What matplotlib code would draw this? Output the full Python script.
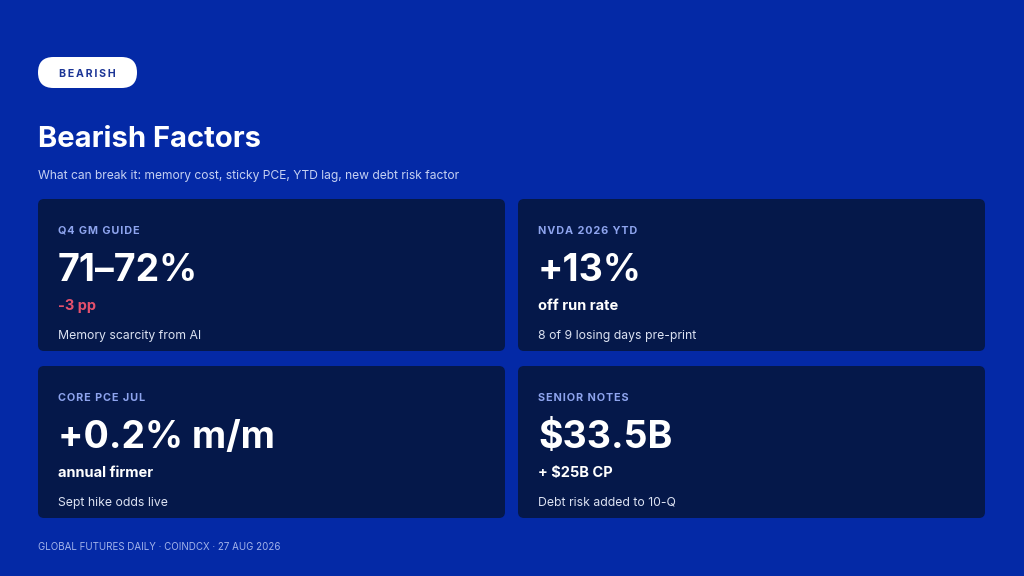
import matplotlib
matplotlib.use('Agg')
from matplotlib import pyplot as plt
from matplotlib.patches import FancyBboxPatch

# chart content
badge = 'BEARISH'
title = 'Bearish Factors'
subtitle = 'What can break it: memory cost, sticky PCE, YTD lag, new debt risk factor'
footer = 'GLOBAL FUTURES DAILY · COINDCX · 27 AUG 2026'

card_labels = ['Q4 GM GUIDE', 'NVDA 2026 YTD', 'CORE PCE JUL', 'SENIOR NOTES']
card_values = ['71–72%', '+13%', '+0.2% m/m', '$33.5B']
card_subs = ['-3 pp', 'off run rate', 'annual firmer', '+ $25B CP']
card_sub_neg = [True, False, False, False]
card_notes = ['Memory scarcity from AI', '8 of 9 losing days pre-print',
              'Sept hike odds live', 'Debt risk added to 10-Q']

BG = '#0429A6'
CARD = '#05184A'
FONT = ['Inter', 'DejaVu Sans']

def spaced(s, n=1):
    # fake letter spacing with hair spaces
    sep = '\u200a' * n
    return sep.join(list(s))

fig = plt.figure(figsize=(10.24, 5.76), dpi=100, facecolor=BG)
ax = fig.add_axes([0, 0, 1, 1])
ax.set_xlim(0, 1024)
ax.set_ylim(576, 0)
ax.axis('off')
ax.set_facecolor(BG)

# badge
pill = FancyBboxPatch((38, 57), 99, 31,
                      boxstyle='round,pad=0,rounding_size=15.5',
                      fc='white', ec='none')
ax.add_patch(pill)
ax.text(87.5, 77, spaced(badge, 2), ha='center', va='baseline', fontsize=7.6,
        fontweight='bold', color='#1C3596', family=FONT)

ax.text(38, 147, title, ha='left', va='baseline', fontsize=21, fontweight='bold',
        color='white', family=FONT)
ax.text(38, 179, subtitle, ha='left', va='baseline', fontsize=8.7,
        color='#C5D0F2', family=FONT)

xs = [38, 518]
ys = [199, 366]
w, h = 467, 152
for i in range(len(card_labels)):
    x0 = xs[i % 2]
    y0 = ys[i // 2]
    card = FancyBboxPatch((x0, y0), w, h, boxstyle='round,pad=0,rounding_size=6',
                          fc=CARD, ec='none')
    ax.add_patch(card)
    tx = x0 + 20
    ax.text(tx, y0 + 35, spaced(card_labels[i], 1), ha='left', va='baseline',
            fontsize=7.8, fontweight='bold', color='#8EA4EE', family=FONT)
    ax.text(tx, y0 + 82, card_values[i], ha='left', va='baseline', fontsize=27,
            fontweight='bold', color='white', family=FONT)
    sub_color = '#E5506C' if card_sub_neg[i] else 'white'
    ax.text(tx, y0 + 111, card_subs[i], ha='left', va='baseline', fontsize=10.5,
            fontweight='bold', color=sub_color, family=FONT)
    ax.text(tx, y0 + 140, card_notes[i], ha='left', va='baseline', fontsize=8.8,
            color='#DCE2F2', family=FONT)

ax.text(38, 550, footer, ha='left', va='baseline', fontsize=7.0,
        color='#A3B3EA', family=FONT)

fig.savefig('out.png', dpi=100, facecolor=BG)
